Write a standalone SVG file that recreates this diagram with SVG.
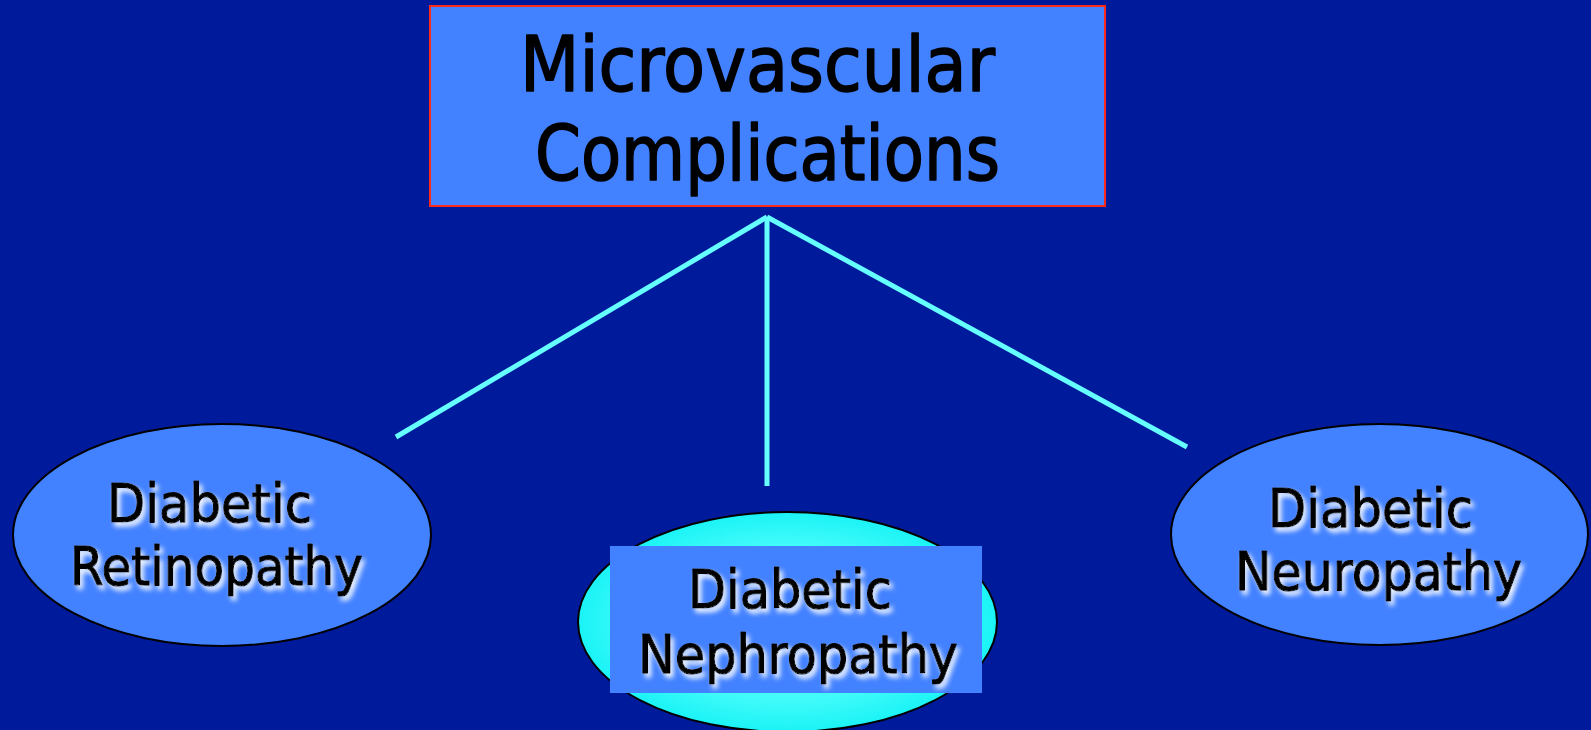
<svg xmlns="http://www.w3.org/2000/svg" width="1591" height="730" viewBox="0 0 1591 730">
<style>
.lbl{font-family:"Comic Sans MS","DejaVu Sans",sans-serif;fill:#000;stroke:#000;stroke-linejoin:round;}
.big{font-size:76px;stroke-width:1.6;}
.small{font-size:54px;stroke-width:1.2;filter:url(#glow);}
.conn{stroke:#66FFFF;stroke-width:5;fill:none;stroke-linecap:butt;}
.ell{fill:#4281FF;stroke:#000;stroke-width:2;}
</style>
<defs>
<filter id="glow" x="-10%" y="-30%" width="120%" height="160%">
<feGaussianBlur in="SourceAlpha" stdDeviation="2.5" result="b"/>
<feOffset in="b" dx="3" dy="4" result="o"/>
<feFlood flood-color="#FFFFFF" flood-opacity="0.95"/>
<feComposite in2="o" operator="in" result="s"/>
<feMerge><feMergeNode in="s"/><feMergeNode in="SourceGraphic"/></feMerge>
</filter>
<radialGradient id="cyan" cx="50%" cy="50%" r="60%">
<stop offset="0" stop-color="#7FFFFF"/>
<stop offset="0.6" stop-color="#40FAFA"/>
<stop offset="1" stop-color="#00EEF2"/>
</radialGradient>
</defs>
<rect width="1591" height="730" fill="#001A9C"/>
<g id="connectors">
<line class="conn" x1="767" y1="217" x2="396" y2="437"/>
<line class="conn" x1="767" y1="217" x2="767" y2="486"/>
<line class="conn" x1="767" y1="217" x2="1187" y2="447"/>
</g>
<g id="microvascular">
<rect x="430" y="6" width="675" height="200" fill="#4281FF" stroke="#FF2A1A" stroke-width="2"/>
<text class="lbl big" x="520" y="91" textLength="475" lengthAdjust="spacingAndGlyphs">Microvascular</text>
<text class="lbl big" x="535" y="180" textLength="465" lengthAdjust="spacingAndGlyphs">Complications</text>
</g>
<g id="retinopathy">
<ellipse class="ell" cx="222" cy="535" rx="209" ry="111"/>
<text class="lbl small" x="107" y="522" textLength="205" lengthAdjust="spacingAndGlyphs">Diabetic</text>
<text class="lbl small" x="70" y="585" textLength="293" lengthAdjust="spacingAndGlyphs">Retinopathy</text>
</g>
<g id="nephropathy">
<ellipse cx="787.5" cy="622" rx="209.5" ry="110" fill="url(#cyan)" stroke="#000" stroke-width="2"/>
<rect x="610" y="546" width="372" height="147" fill="#4281FF"/>
<text class="lbl small" x="688" y="608" textLength="204" lengthAdjust="spacingAndGlyphs">Diabetic</text>
<text class="lbl small" x="638" y="673" textLength="320" lengthAdjust="spacingAndGlyphs">Nephropathy</text>
</g>
<g id="neuropathy">
<ellipse class="ell" cx="1379.5" cy="534.5" rx="208.5" ry="110.5"/>
<text class="lbl small" x="1268" y="527" textLength="205" lengthAdjust="spacingAndGlyphs">Diabetic</text>
<text class="lbl small" x="1235" y="590" textLength="287" lengthAdjust="spacingAndGlyphs">Neuropathy</text>
</g>
</svg>
